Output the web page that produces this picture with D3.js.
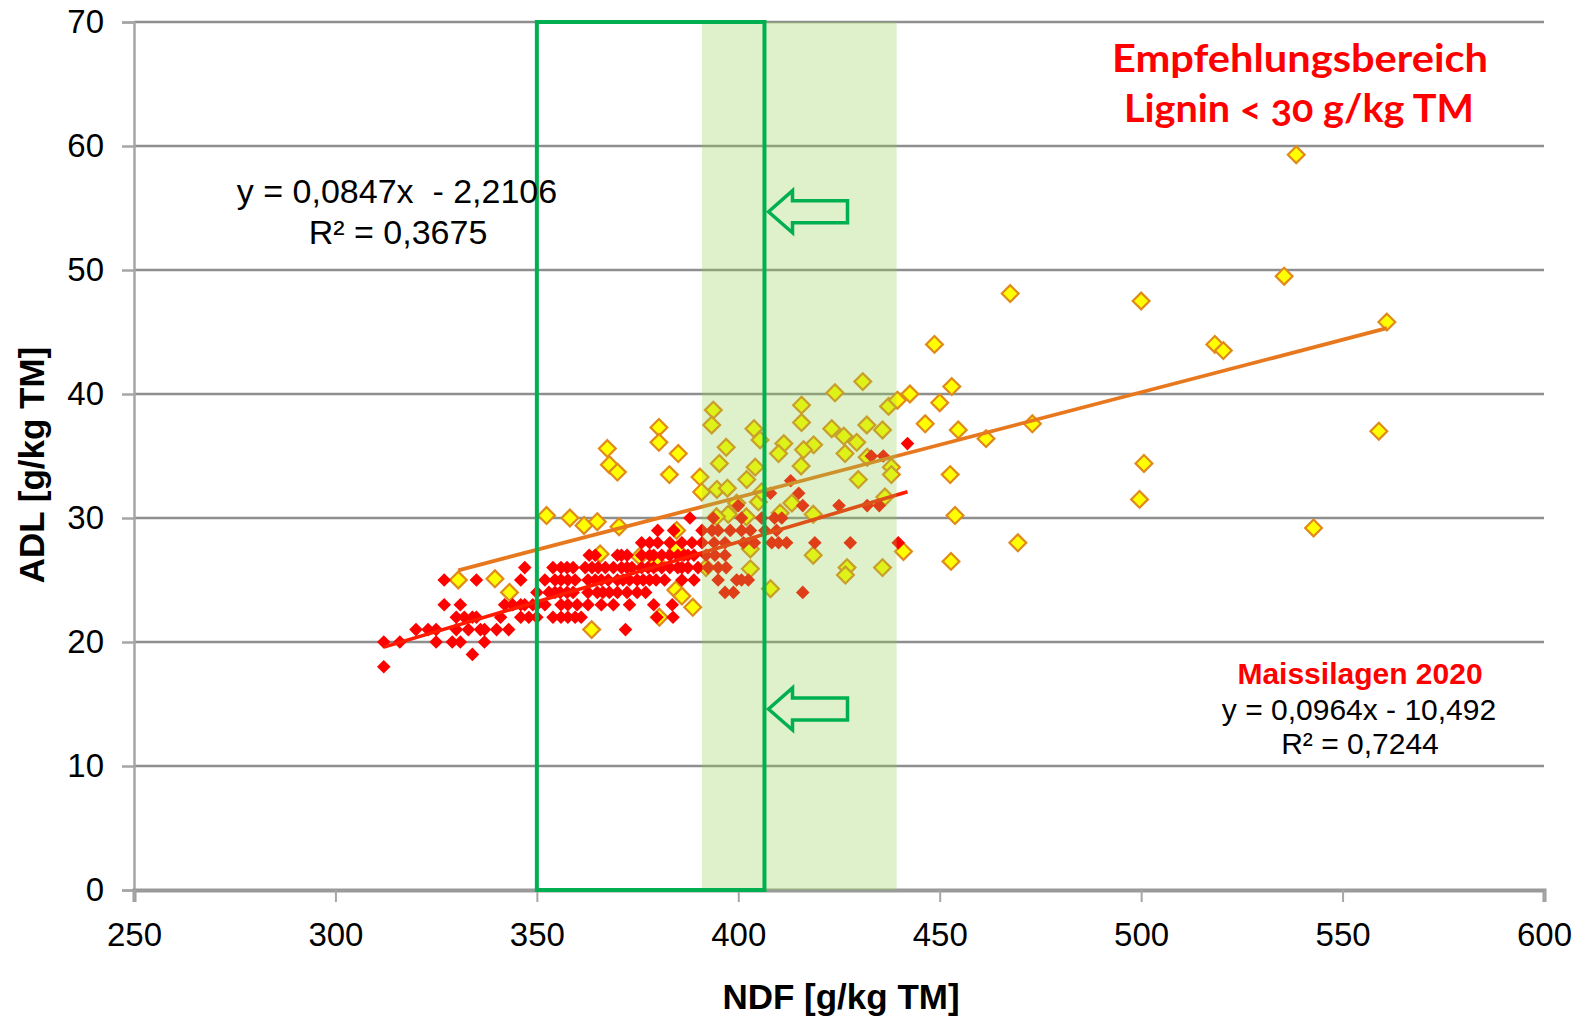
<!DOCTYPE html>
<html><head><meta charset="utf-8">
<script src="https://cdn.jsdelivr.net/npm/d3@7"></script>
<style>
html,body{margin:0;padding:0;background:#fff;}
svg{display:block;}
</style></head>
<body>
<svg id="chart" width="1579" height="1019"></svg>
<script>
// ---------- DATA ----------
const xTicks = [250, 300, 350, 400, 450, 500, 550, 600];
const yTicks = [0, 10, 20, 30, 40, 50, 60, 70];
const xTitle = "NDF [g/kg TM]";
const yTitle = "ADL [g/kg TM]";

// Maissilagen 2020 (red), NDF x / ADL y
const red2020 = [
 [312,18],[334,19],
 [312,20],[316,20],[325,20],[329,20],[331,20],[337,20],
 [320,21],[323,21],[325,21],[330,21],[333,21],[336,21],[337,21],[340,21],[343,21],[372,21],
 [330,22],[332,22],[334,22],[335,22],[341,22],[346,22],[348,22],[350,22],[354,22],[356,22],[357.7,22],[359.5,22],[361,22],[379.8,22],[383.8,22],
 [327,23],[331,23],[342,23],[344,23],[346,23],[347,23],[349,23],[350,23],[352,23],[356,23],[357.7,23],[360,23],[362.7,23],[366,23],[369,23],[373,23],[379,23],[383.6,23],
 [350,24],[353,24],[354.5,24],[355.8,24],[357.5,24],[359,24],[362.7,24],[365,24],[366.4,24],[368,24],[370,24],[372.4,24],[374.9,24],[377,24],[396.7,24],[398.8,24],[416,24],
 [327,25],[335,25],[346,25],[352,25],[354.5,25],[356,25],[357.7,25],[359.5,25],[362.7,25],[364.5,25],[366,25],[367.7,25],[370,25],[371.4,25],[373,25],[374.9,25],[376.4,25],[378,25],[379.6,25],[381.7,25],[386,25],[389,25],[395,25],[399.6,25],[400.8,25],[402.5,25],
 [347,26],[354,26],[356,26],[357.5,26],[359,26],[362,26],[363.7,26],[365.2,26],[367,26],[369,26],[371,26],[372.4,26],[373.6,26],[376,26],[377.6,26],[379,26],[381,26],[383,26],[385,26],[386,26],[387.5,26],[390,26],[392.5,26],[395,26],[397,26],
 [363,27],[364.5,27],[370,27],[371,27],[372.4,27],[376,27],[378,27],[379,27],[381,27],[383,27],[385,27],[386.5,27],[387.5,27],[389,27],[392,27],[394.2,27],[396.7,27],
 [376,28],[378,28],[380,28],[383,28],[386,28],[388.5,28],[391,28],[394,28],[396.7,28],[401.3,28],[404,28],[408.3,28],[410,28],[412,28],[419,28],[427.8,28],[439.7,28],
 [380,29],[384,29],[391,29],[393.5,29],[395,29],[398,29],[400.8,29],[403,29],[406.6,29],[409.5,29],
 [388,30],[393.8,30],[400.8,30],[405.8,30],[409,30],[410.8,30],
 [400,31],[416,31],[425,31],[432,31],[435,31],
 [408,32],[415,32],
 [413,33],
 [433,35],[436,35],
 [442,36]
];

// other samples (yellow)
const yellowOther = [
 [330.5,25],[339.6,25.1],[343.2,24],[352.4,30.2],[358.2,30],[361.7,29.4],[365,29.7],[370.4,29.3],
 [363.6,21],[365.7,27.1],[375.5,26.9],[379.8,26.4],[384.7,27.4],[384.7,29],
 [367.5,35.6],[368,34.3],[370,33.7],[380.3,37.3],[380.3,36.1],[385.1,35.2],[382.9,33.5],
 [390.5,33.3],[390.9,32.1],[393.8,38.7],[393.4,37.5],[397,35.7],[395.3,34.4],[394.7,32.3],[397.3,32.4],
 [402.1,33.1],[404.2,34.1],[403.9,37.2],[405.4,36.3],[399.6,31.2],[397.5,30.3],[394.6,30.1],[405,31.3],[402,30.1],
 [405.8,32.1],[410.4,30.4],
 [403,27.5],[392,26],[403,25.9],[408,24.3],[384.5,24.2],[386,23.7],[388.7,22.8],[380.4,22],
 [415.7,39.1],[415.7,37.7],[424,40.1],[430.9,41],[437.3,39],[439.5,39.5],[442.6,40],
 [411.3,36],[418.7,35.9],[410,35.2],[416.2,35.5],[415.6,34.2],[423.2,37.2],[426.2,36.6],[429.4,36.1],
 [426.5,35.2],[431.9,37.5],[435.8,37.1],[432,34.9],[438,34.1],[438,33.5],[429.8,33.1],
 [413.3,31.2],[418.6,30.3],[436.4,31.7],[418.6,27],[427,26],[426.6,25.4],[435.8,26],[441,27.3],
 [446.4,37.6],[448.7,44],[453,40.6],[450,39.3],[454.6,37.1],[461.5,36.4],[473,37.6],
 [452.6,33.5],[453.8,30.2],[452.8,26.5],[469.4,28],
 [467.5,48.1],[500,47.5],[500.7,34.4],[499.6,31.5],
 [518.3,44],[520.4,43.5],[535.5,49.5],[538.5,59.3],[542.8,29.2],[559,37],[561,45.8]
];

// trend equations as printed on the chart: [slope, intercept]
const trendRed = [0.0964, -10.492];
const trendOther = [0.0847, -2.2106];
const labelOther = ["y = 0,0847x  - 2,2106", "R² = 0,3675"];
const labelRed = ["Maissilagen 2020", "y = 0,0964x - 10,492", "R² = 0,7244"];
const noteLines = ["Empfehlungsbereich", "Lignin < 30 g/kg TM"];

// highlighted ranges (NDF)
const shadeRange = [391, 439.3];
const boxRange = [350, 406.5];
const arrowAt = [[407.5, 54.7], [407.5, 14.6]];

// ---------- CHART ----------
const W = 1579, H = 1019;
const L = 134, R = 1544, T = 22, B = 890;
const svg = d3.select("#chart");
const x = d3.scaleLinear().domain([250, 600]).range([L, R]);
const y = d3.scaleLinear().domain([0, 70]).range([B, T]);

const ARIAL = "'Liberation Sans', Arial, sans-serif";

// gridlines
svg.append("g").selectAll("line").data(yTicks.filter(d => d > 0)).join("line")
  .attr("x1", L).attr("x2", R).attr("y1", d => y(d)).attr("y2", d => y(d))
  .attr("stroke", "#8e8e8e").attr("stroke-width", 2.5);

// y axis
const yAxis = svg.append("g").attr("transform", `translate(${L},0)`)
  .call(d3.axisLeft(y).tickValues(yTicks).tickSize(12).tickPadding(18).tickFormat(d3.format("d")));
yAxis.select(".domain").attr("stroke", "#a6a6a6").attr("stroke-width", 2.5);
yAxis.selectAll(".tick line").attr("stroke", "#a6a6a6").attr("stroke-width", 2.5);
yAxis.selectAll("text").attr("font-family", ARIAL).attr("font-size", 33).attr("fill", "#000");

// x axis
const xAxis = svg.append("g").attr("transform", `translate(0,${B})`)
  .call(d3.axisBottom(x).tickValues(xTicks).tickSize(12).tickPadding(21).tickFormat(d3.format("d")));
xAxis.select(".domain").attr("stroke", "#9a9a9a").attr("stroke-width", 4);
xAxis.selectAll(".tick line").attr("stroke", "#a6a6a6").attr("stroke-width", 2);
xAxis.selectAll("text").attr("font-family", ARIAL).attr("font-size", 33).attr("fill", "#000");

const diamond = h => `M0,${-h}L${h},0L0,${h}L${-h},0Z`;

// yellow points
svg.append("g").selectAll("path").data(yellowOther).join("path")
  .attr("d", diamond(8.4))
  .attr("transform", d => `translate(${x(d[0])},${y(d[1])})`)
  .attr("fill", "#ffff00").attr("stroke", "#e08a1a").attr("stroke-width", 2.2);

// red points
svg.append("g").selectAll("path").data(red2020).join("path")
  .attr("d", diamond(6.8))
  .attr("transform", d => `translate(${x(d[0])},${y(d[1])})`)
  .attr("fill", "#ff0000");

// trend lines
function trend(data, coef, color, w) {
  const ext = d3.extent(data, d => d[0]);
  const pts = ext.map(v => [v, coef[0] * v + coef[1]]);
  svg.append("path")
    .attr("d", d3.line().x(d => x(d[0])).y(d => y(d[1]))(pts))
    .attr("stroke", color).attr("stroke-width", w).attr("fill", "none");
}
trend(yellowOther, trendOther, "#e8781e", 3.8);
trend(red2020, trendRed, "#ff1a00", 3.6);

// green shading overlay
svg.append("rect")
  .attr("x", x(shadeRange[0])).attr("width", x(shadeRange[1]) - x(shadeRange[0]))
  .attr("y", T).attr("height", B - T)
  .attr("fill", "rgb(146,208,80)").attr("fill-opacity", 0.3);

// green box
svg.append("rect")
  .attr("x", x(boxRange[0])).attr("width", x(boxRange[1]) - x(boxRange[0]))
  .attr("y", T).attr("height", B - T)
  .attr("fill", "none").attr("stroke", "#00b050").attr("stroke-width", 4);

// arrows
arrowAt.forEach(a => {
  const tx = x(a[0]), ty = y(a[1]);
  const p = [[0,0],[24,-21],[24,-11],[79,-11],[79,11],[24,11],[24,21]];
  svg.append("path")
    .attr("d", "M" + p.map(q => `${tx + q[0]},${ty + q[1]}`).join("L") + "Z")
    .attr("fill", "none").attr("stroke", "#00b050").attr("stroke-width", 3.5)
    .attr("stroke-linejoin", "miter");
});

// labels
const g1 = svg.append("g").attr("font-family", ARIAL).attr("font-size", 34).attr("fill", "#000").attr("text-anchor", "middle");
g1.append("text").attr("x", 397).attr("y", 203).attr("xml:space", "preserve").text(labelOther[0]);
g1.append("text").attr("x", 398).attr("y", 244).text(labelOther[1]);

const g2 = svg.append("g").attr("font-family", ARIAL).attr("text-anchor", "middle");
g2.append("text").attr("x", 1360).attr("y", 684).attr("font-size", 30).attr("font-weight", "bold").attr("fill", "#ff0000").text(labelRed[0]);
g2.append("text").attr("x", 1359).attr("y", 720).attr("font-size", 30).attr("fill", "#000").text(labelRed[1]);
g2.append("text").attr("x", 1360).attr("y", 754).attr("font-size", 30).attr("fill", "#000").text(labelRed[2]);

const g3 = svg.append("g").attr("font-family", "Lato, 'Open Sans', sans-serif").attr("font-weight", "bold")
  .attr("font-size", 39).attr("fill", "#ff0000").attr("text-anchor", "middle")
  .style("font-variant-numeric", "oldstyle-nums");
g3.append("text").attr("x", 1300).attr("y", 72).attr("textLength", 376).attr("lengthAdjust", "spacingAndGlyphs").text(noteLines[0]);
g3.append("text").attr("x", 1299).attr("y", 122).attr("textLength", 350).attr("lengthAdjust", "spacingAndGlyphs").text(noteLines[1]);

// axis titles
svg.append("text").attr("x", 841).attr("y", 1009).attr("text-anchor", "middle")
  .attr("font-family", ARIAL).attr("font-weight", "bold").attr("font-size", 35).text(xTitle);
svg.append("text").attr("transform", "translate(44,465) rotate(-90)").attr("text-anchor", "middle")
  .attr("font-family", ARIAL).attr("font-weight", "bold").attr("font-size", 35).text(yTitle);
</script>
</body></html>
